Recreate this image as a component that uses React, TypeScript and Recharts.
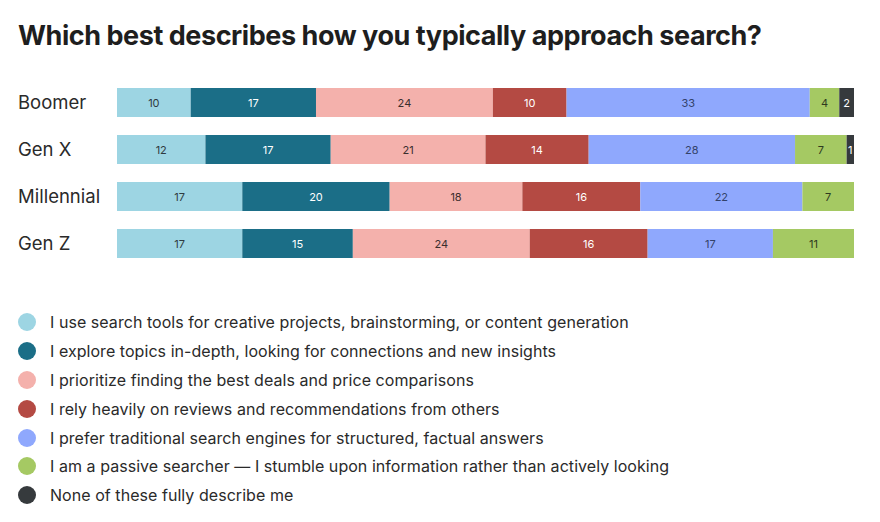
import React from 'react';
import { BarChart, Bar, XAxis, YAxis, LabelList } from 'recharts';

const categories = ['Boomer', 'Gen X', 'Millennial', 'Gen Z'];
const creative = [10, 12, 17, 17];
const explore = [17, 17, 20, 15];
const deals = [24, 21, 18, 24];
const reviews = [10, 14, 16, 16];
const traditional = [33, 28, 22, 17];
const passive = [4, 7, 7, 11];
const noneOf = [2, 1, 0, 0];

const seriesKeys = ['creative', 'explore', 'deals', 'reviews', 'traditional', 'passive', 'noneOf'];
const seriesValues = [creative, explore, deals, reviews, traditional, passive, noneOf];
const seriesLabels = [
  'I use search tools for creative projects, brainstorming, or content generation',
  'I explore topics in-depth, looking for connections and new insights',
  'I prioritize finding the best deals and price comparisons',
  'I rely heavily on reviews and recommendations from others',
  'I prefer traditional search engines for structured, factual answers',
  'I am a passive searcher \u2014 I stumble upon information rather than actively looking',
  'None of these fully describe me',
];
const colors = ['#9dd5e3', '#1b6e87', '#f4b1ac', '#b44a43', '#8fa8fd', '#a5c963', '#363a3d'];
const labelColors = ['#2f3b40', '#ffffff', '#3a2e2e', '#ffffff', '#33426a', '#2f3a20', '#ffffff'];

const data = categories.map((name, i) => {
  const row: Record<string, string | number> = { name };
  seriesKeys.forEach((k, j) => {
    row[k] = seriesValues[j][i];
  });
  return row;
});

const FONT = 'Inter, "Noto Sans", sans-serif';

const CategoryTick = (props: any) => {
  const { y, payload } = props;
  return (
    <text x={18} y={y} dy={6} textAnchor="start" fontFamily={FONT} fontSize={18.5} fill="#2a2a2a">
      {payload.value}
    </text>
  );
};

const makeLabel = (color: string) => (props: any) => {
  const { x, y, width, height, value } = props;
  if (!value) return null;
  return (
    <text
      x={x + width / 2}
      y={y + height / 2}
      dy={4}
      textAnchor="middle"
      fontFamily={FONT}
      fontSize={11}
      fill={color}
    >
      {value}
    </text>
  );
};

export default function App() {
  return (
    <div style={{ position: 'absolute', left: 0, top: 0, width: 880, height: 522, background: '#fff' }}>
      <div
        style={{
          position: 'absolute',
          left: 18,
          top: 19,
          fontFamily: FONT,
          fontWeight: 700,
          fontSize: 27,
          letterSpacing: -0.45,
          color: '#1e1e1e',
          whiteSpace: 'nowrap',
        }}
      >
        Which best describes how you typically approach search?
      </div>
      <div style={{ position: 'absolute', left: 0, top: 0 }}>
        <BarChart
          width={880}
          height={522}
          data={data}
          layout="vertical"
          margin={{ top: 79, right: 26, bottom: 255, left: 18 }}
        >
          <XAxis type="number" domain={[0, 100]} hide />
          <YAxis
            type="category"
            dataKey="name"
            width={99}
            axisLine={false}
            tickLine={false}
            tick={<CategoryTick />}
          />
          {seriesKeys.map((k, j) => (
            <Bar key={k} dataKey={k} stackId="a" fill={colors[j]} barSize={29} isAnimationActive={false}>
              <LabelList dataKey={k} content={makeLabel(labelColors[j])} />
            </Bar>
          ))}
        </BarChart>
      </div>
      <div style={{ position: 'absolute', left: 18, top: 308 }}>
        {seriesLabels.map((label, j) => (
          <div key={label} style={{ display: 'flex', alignItems: 'center', height: 28.8 }}>
            <span
              style={{
                display: 'inline-block',
                width: 18,
                height: 18,
                borderRadius: 9,
                background: colors[j],
                marginRight: 14,
              }}
            />
            <span
              style={{
                fontFamily: FONT,
                fontSize: 16,
                letterSpacing: 0.05,
                color: '#2a2a2a',
                whiteSpace: 'nowrap',
              }}
            >
              {label}
            </span>
          </div>
        ))}
      </div>
    </div>
  );
}
